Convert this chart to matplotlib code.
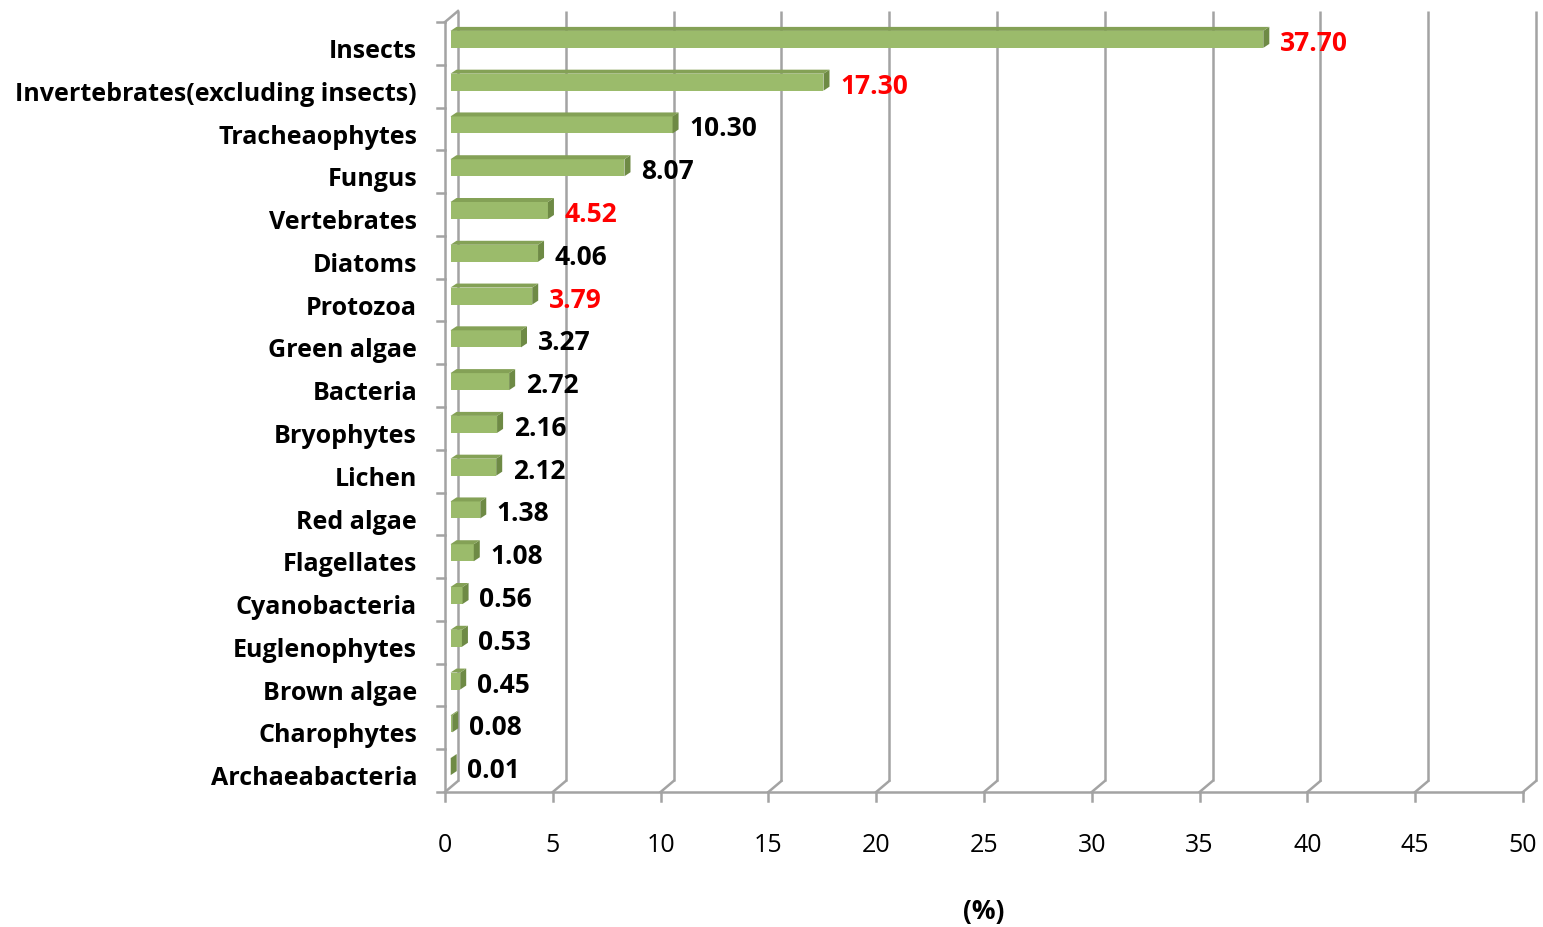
import matplotlib
matplotlib.use("Agg")
import matplotlib.pyplot as plt
from matplotlib.patches import Polygon

categories = [
    "Insects", "Invertebrates(excluding insects)", "Tracheaophytes", "Fungus",
    "Vertebrates", "Diatoms", "Protozoa", "Green algae", "Bacteria",
    "Bryophytes", "Lichen", "Red algae", "Flagellates", "Cyanobacteria",
    "Euglenophytes", "Brown algae", "Charophytes", "Archaeabacteria",
]
values = [37.70, 17.30, 10.30, 8.07, 4.52, 4.06, 3.79, 3.27, 2.72,
          2.16, 2.12, 1.38, 1.08, 0.56, 0.53, 0.45, 0.08, 0.01]
highlighted = ["Insects", "Invertebrates(excluding insects)", "Vertebrates", "Protozoa"]
x_ticks = [0, 5, 10, 15, 20, 25, 30, 35, 40, 45, 50]
x_label = "(%)"

FONT = ["Open Sans", "DejaVu Sans"]
plt.rcParams["font.family"] = FONT

W, H = 1543, 927
fig = plt.figure(figsize=(W / 100, H / 100), dpi=100)
L, R, T, B = 445, 1523, 22, 792
ax = fig.add_axes([L / W, 1 - B / H, (R - L) / W, (B - T) / H])
n = len(categories)
ax.set_xlim(x_ticks[0], x_ticks[-1])
ax.set_ylim(n - 0.5, -0.5)
ax.axis("off")

# pixel -> data conversion (y grows downward because the axis is inverted)
sx = (x_ticks[-1] - x_ticks[0]) / (R - L)
sy = n / (B - T)


def P(x, y, ox=0.0, oy=0.0):
    return (x + ox * sx, y + oy * sy)


grid_c = "#a3a3a3"
glw = 1.8
wall_dx, wall_dy = 13, -11
y_bot, y_top = n - 0.5, -0.5

# back wall gridlines and floor diagonals
for t in x_ticks:
    a = P(t, y_bot, wall_dx, wall_dy)
    b = P(t, y_top, wall_dx, wall_dy)
    ax.plot([a[0], b[0]], [a[1], b[1]], color=grid_c, lw=glw, clip_on=False,
            solid_capstyle="butt", zorder=1)
    c = P(t, y_bot)
    ax.plot([c[0], a[0]], [c[1], a[1]], color=grid_c, lw=glw, clip_on=False, zorder=1)
    d = P(t, y_bot, 0, 9)
    ax.plot([c[0], d[0]], [c[1], d[1]], color=grid_c, lw=glw, clip_on=False, zorder=1)
    ax.text(*P(t, y_bot, 0, 53), f"{t}", ha="center", va="center",
            fontsize=18, color="#000000")

# front floor edge and left axis
ax.plot([x_ticks[0], x_ticks[-1]], [y_bot, y_bot], color=grid_c, lw=glw,
        clip_on=False, zorder=1)
ax.plot([0, 0], [y_top, y_bot], color=grid_c, lw=glw, clip_on=False, zorder=1)
tl = P(0, y_top, wall_dx, wall_dy)
ax.plot([0, tl[0]], [y_top, tl[1]], color=grid_c, lw=glw, clip_on=False, zorder=1)
for k in range(n + 1):
    e = P(0, k - 0.5, -8, 0)
    ax.plot([e[0], 0], [e[1], e[1]], color=grid_c, lw=glw, clip_on=False, zorder=1)

# 3-D style bars: front face via barh plus top and side faces
face_ox, face_oy = 5.5, -4
depth_dx, depth_dy = 6, -4
bar_h_px = 17
ypos = [i + face_oy * sy for i in range(n)]
ax.barh(ypos, values, height=bar_h_px * sy, left=face_ox * sx,
        color="#9bbb6b", edgecolor="none", zorder=3)
for i, v in enumerate(values):
    top = i + (face_oy - bar_h_px / 2) * sy
    bot = i + (face_oy + bar_h_px / 2) * sy
    x0 = face_ox * sx
    x1 = v + face_ox * sx
    side = [(x1, top), P(x1, top, depth_dx, depth_dy),
            P(x1, bot, depth_dx, depth_dy), (x1, bot)]
    ax.add_patch(Polygon(side, closed=True, facecolor="#6e8a45",
                         edgecolor="none", zorder=4, clip_on=False))
    lid = [(x0, top), P(x0, top, depth_dx, depth_dy),
           P(x1, top, depth_dx, depth_dy), (x1, top)]
    ax.add_patch(Polygon(lid, closed=True, facecolor="#84a156",
                         edgecolor="none", zorder=4, clip_on=False))

# category labels and value labels
for i, (cat, v) in enumerate(zip(categories, values)):
    ax.text(*P(0, i, -28, 14.6), cat, ha="right", va="baseline",
            fontsize=18, fontweight="bold", color="#000000")
    col = "#ff0000" if cat in highlighted else "#000000"
    ax.text(*P(v, i, 22, 7.5), f"{v:.2f}", ha="left", va="baseline",
            fontsize=19, fontweight="bold", color=col)

ax.text(*P(25, y_bot, 0, 120), x_label, ha="center", va="center",
        fontsize=19, fontweight="bold", color="#000000")

fig.savefig("out.png", dpi=100, facecolor="white")
